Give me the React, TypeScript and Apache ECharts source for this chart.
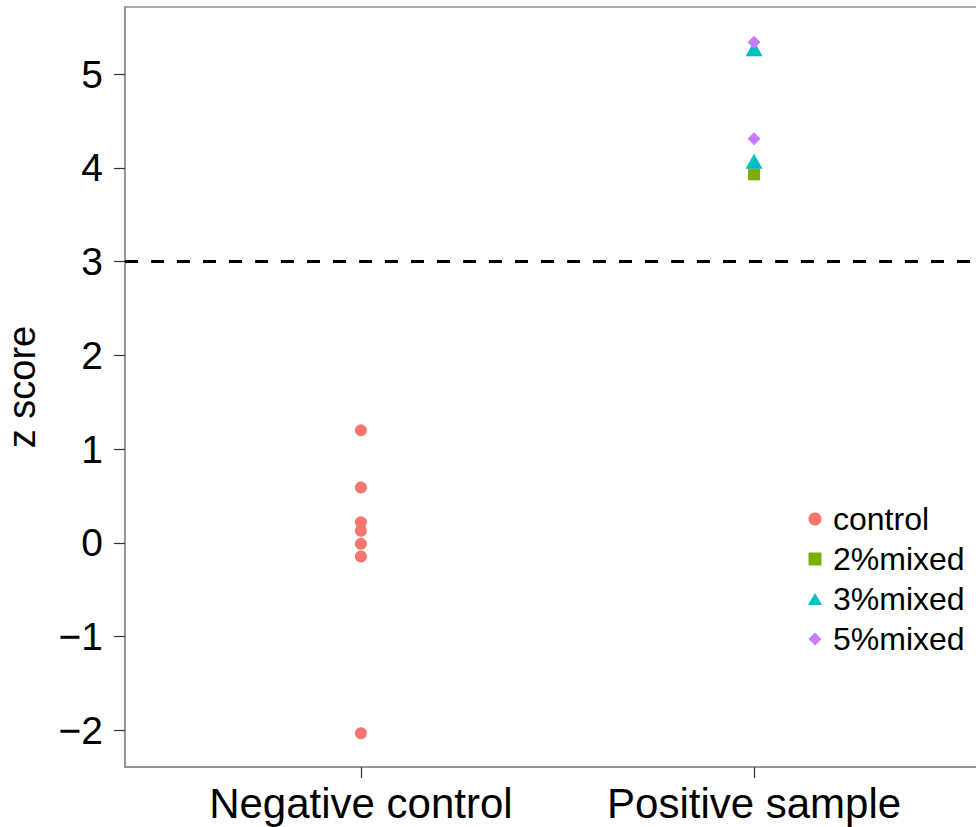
import React, { useEffect, useRef } from "react";
import * as echarts from "echarts";

const categories = ["Negative control", "Positive sample"];
const categoryPositions = [1, 2];
const yTickValues = [-2, -1, 0, 1, 2, 3, 4, 5];
const threshold = 3;

const controlValues = [1.2, 0.59, 0.22, 0.13, -0.01, -0.145, -2.03];
const mixed2Values = [3.93];
const mixed3Values = [5.27, 4.07];
const mixed5Values = [5.34, 4.31];

const seriesNames = ["control", "2%mixed", "3%mixed", "5%mixed"];
const colors = ["#F8766D", "#7CAE00", "#00BFC4", "#C77CFF"];
const legendIcons = [
  "circle",
  "path://M0,0H10V10H0Z",
  "path://M5,0L10,8.66H0Z",
  "path://M5,0L10,5L5,10L0,5Z",
];

const FONT = "'Liberation Sans', Arial, Helvetica, sans-serif";

export default function App() {
  const ref = useRef<HTMLDivElement>(null);

  useEffect(() => {
    document.body.style.margin = "0";
    if (!ref.current) return;
    const chart = echarts.init(ref.current, undefined, { renderer: "svg" });

    const toPoints = (x: number, vals: number[]) => vals.map((v) => [x, v]);
    const axisLineStyle = { color: "#8f8f8f", width: 1.5 };

    const option: any = {
      animation: false,
      backgroundColor: "#ffffff",
      textStyle: { fontFamily: FONT },
      grid: {
        left: 125,
        top: 7,
        width: 865,
        height: 760,
        outerBoundsMode: "none",
        containLabel: false,
        show: true,
        borderColor: "#8f8f8f",
        borderWidth: 1.5,
        backgroundColor: "transparent",
      },
      legend: {
        orient: "vertical",
        left: 803,
        top: 494,
        itemWidth: 14,
        itemHeight: 13,
        itemGap: 0,
        symbolKeepAspect: true,
        data: seriesNames.map((n, i) => ({ name: n, icon: legendIcons[i] })),
        textStyle: {
          fontFamily: FONT,
          fontSize: 32,
          lineHeight: 40,
          color: "#000",
          padding: [0, 0, 0, 6],
        },
      },
      xAxis: {
        type: "value",
        min: 0.4,
        max: 2.6,
        axisLine: { show: true, onZero: false, lineStyle: axisLineStyle },
        splitLine: { show: false },
        axisTick: {
          show: true,
          length: 11,
          lineStyle: { color: "#333", width: 1.2 },
          customValues: categoryPositions,
        },
        axisLabel: {
          customValues: categoryPositions,
          margin: 15,
          fontSize: 42,
          color: "#000",
          fontFamily: FONT,
          formatter: (v: number) => {
            const i = categoryPositions.indexOf(Math.round(v));
            return i >= 0 ? categories[i] : "";
          },
        },
      },
      yAxis: {
        type: "value",
        min: -2.39,
        max: 5.715,
        name: "z score",
        nameLocation: "middle",
        nameGap: 84,
        nameTextStyle: { fontSize: 38, color: "#000", fontFamily: FONT },
        axisLine: { show: true, onZero: false, lineStyle: axisLineStyle },
        splitLine: { show: false },
        axisTick: {
          show: true,
          length: 11,
          lineStyle: { color: "#333", width: 1.2 },
          customValues: yTickValues,
        },
        axisLabel: {
          customValues: yTickValues,
          margin: 22,
          fontSize: 39,
          color: "#000",
          fontFamily: FONT,
          formatter: (v: number) => (v < 0 ? "\u2212" + Math.abs(v) : String(v)),
        },
      },
      series: [
        {
          name: seriesNames[0],
          type: "scatter",
          symbol: "circle",
          symbolSize: 12,
          itemStyle: { color: colors[0], opacity: 1 },
          data: toPoints(categoryPositions[0], controlValues),
          markLine: {
            silent: true,
            symbol: ["none", "none"],
            label: { show: false },
            lineStyle: { color: "#000", width: 3, type: [13, 13] },
            data: [{ yAxis: threshold }],
          },
        },
        {
          name: seriesNames[1],
          type: "scatter",
          symbol: "rect",
          symbolSize: 12,
          itemStyle: { color: colors[1], opacity: 1 },
          data: toPoints(categoryPositions[1], mixed2Values),
        },
        {
          name: seriesNames[2],
          type: "scatter",
          symbol: "triangle",
          symbolSize: [17, 15],
          itemStyle: { color: colors[2], opacity: 1 },
          data: toPoints(categoryPositions[1], mixed3Values),
        },
        {
          name: seriesNames[3],
          type: "scatter",
          symbol: "diamond",
          symbolSize: 13,
          itemStyle: { color: colors[3], opacity: 1 },
          data: toPoints(categoryPositions[1], mixed5Values),
        },
      ],
    };

    chart.setOption(option);
    return () => chart.dispose();
  }, []);

  return <div ref={ref} style={{ width: 976, height: 827 }} />;
}
